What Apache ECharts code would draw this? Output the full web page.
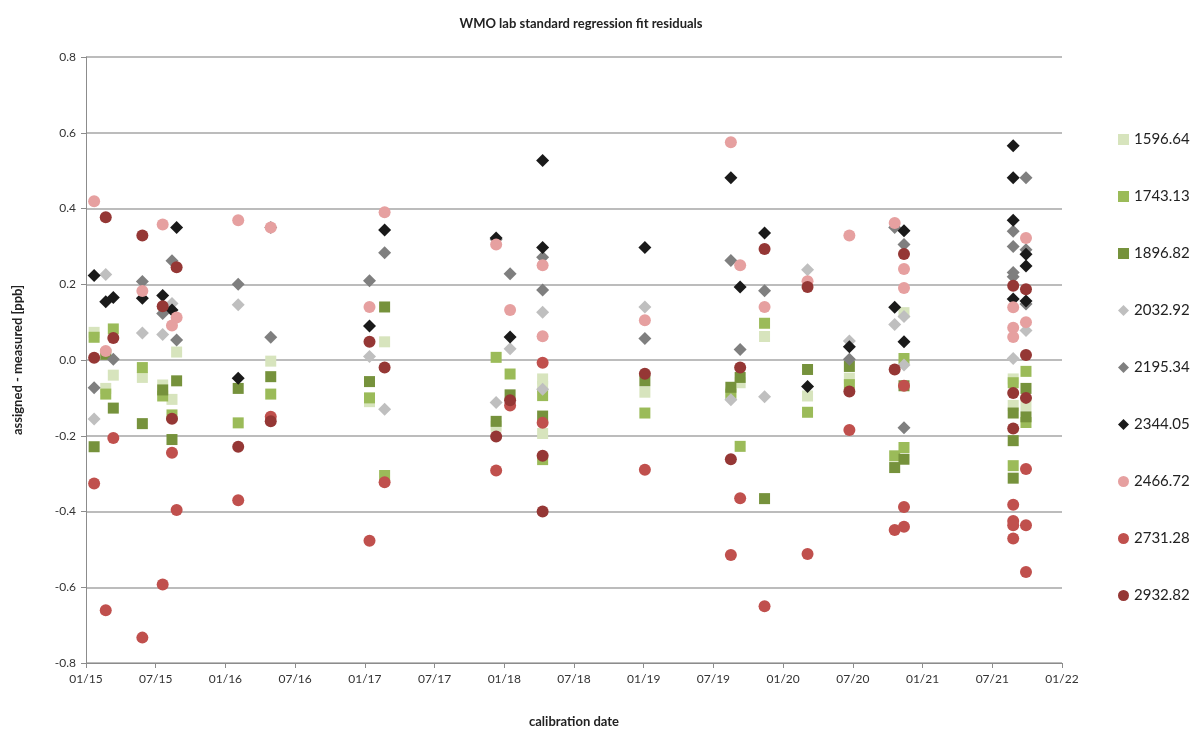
<!DOCTYPE html>
<html>
<head>
<meta charset="utf-8">
<script src="https://cdn.jsdelivr.net/npm/echarts@6/dist/echarts.min.js"></script>
<style>
html,body{margin:0;padding:0;background:#fff;}
#chart{width:1190px;height:733px;}
</style>
</head>
<body>
<div id="chart"></div>
<script>
// x = months since 01/2015, y = residual [ppb]
var xTickLabels = ['01/15','07/15','01/16','07/16','01/17','07/17','01/18','07/18','01/19','07/19','01/20','07/20','01/21','07/21','01/22'];
var seriesNames = ['1596.64','1743.13','1896.82','2032.92','2195.34','2344.05','2466.72','2731.28','2932.82'];

var s1596 = [[0.7,0.073],[1.7,-0.075],[2.35,-0.04],[4.85,-0.046],[6.6,-0.066],[7.4,-0.104],[7.8,0.021],[15.9,-0.003],[24.4,-0.11],[25.7,0.048],[35.3,-0.175],[39.3,-0.05],[39.3,-0.07],[39.3,-0.194],[48.1,-0.085],[55.5,-0.085],[56.3,-0.06],[58.4,0.062],[62.1,-0.095],[65.7,-0.048],[70.4,0.125],[79.8,-0.05],[79.8,-0.12],[80.9,-0.12]];
var s1743 = [[0.7,0.06],[1.7,-0.09],[2.35,0.082],[4.85,-0.02],[6.6,-0.095],[7.4,-0.145],[13.1,-0.166],[15.9,-0.09],[24.4,-0.1],[25.7,-0.305],[35.3,0.007],[36.5,-0.037],[39.3,-0.094],[39.3,-0.263],[48.1,-0.14],[55.5,-0.09],[56.3,-0.228],[58.4,0.097],[62.1,-0.138],[65.7,-0.065],[69.6,-0.253],[70.4,0.004],[70.4,-0.231],[79.8,-0.06],[79.8,-0.279],[80.9,-0.03],[80.9,-0.165]];
var s1896 = [[0.7,-0.229],[1.7,0.015],[2.35,-0.127],[4.85,-0.168],[6.6,-0.079],[7.4,-0.21],[7.8,-0.055],[13.1,-0.075],[15.9,-0.044],[24.4,-0.057],[25.7,0.14],[35.3,-0.162],[36.5,-0.092],[39.3,-0.148],[48.1,-0.055],[55.5,-0.072],[56.3,-0.046],[58.4,-0.366],[62.1,-0.025],[65.7,-0.017],[69.6,-0.284],[70.4,-0.068],[70.4,-0.262],[79.8,-0.14],[79.8,-0.213],[79.8,-0.312],[80.9,-0.075],[80.9,-0.15]];
var s2032 = [[0.7,-0.156],[1.7,0.226],[4.85,0.071],[6.6,0.067],[7.4,0.149],[13.1,0.146],[24.4,0.009],[25.7,-0.13],[35.3,-0.112],[36.5,0.03],[39.3,0.126],[39.3,-0.077],[48.1,0.14],[55.5,-0.105],[58.4,-0.097],[62.1,0.238],[65.7,0.05],[69.6,0.094],[70.4,0.115],[70.4,-0.013],[79.8,0.004],[80.9,0.078]];
var s2195 = [[0.7,-0.073],[2.35,0.002],[4.85,0.207],[6.6,0.123],[7.4,0.262],[7.8,0.053],[13.1,0.2],[15.9,0.35],[15.9,0.06],[24.4,0.209],[25.7,0.283],[35.3,0.318],[36.5,0.228],[39.3,0.271],[39.3,0.185],[48.1,0.057],[55.5,0.263],[56.3,0.028],[58.4,0.183],[65.7,0.002],[69.6,0.35],[70.4,0.305],[70.4,-0.179],[79.8,0.34],[79.8,0.3],[79.8,0.231],[79.8,0.22],[80.9,0.481],[80.9,0.291],[80.9,0.148]];
var s2344 = [[0.7,0.223],[1.7,0.154],[2.35,0.165],[4.85,0.163],[6.6,0.17],[7.4,0.132],[7.8,0.35],[13.1,-0.048],[24.4,0.09],[25.7,0.343],[35.3,0.322],[36.5,0.061],[39.3,0.527],[39.3,0.297],[48.1,0.297],[55.5,0.481],[56.3,0.193],[58.4,0.335],[62.1,-0.07],[65.7,0.035],[69.6,0.139],[70.4,0.341],[70.4,0.048],[79.8,0.566],[79.8,0.481],[79.8,0.369],[79.8,0.161],[80.9,0.279],[80.9,0.248],[80.9,0.156]];
var s2466 = [[0.7,0.419],[1.7,0.024],[4.85,0.182],[6.6,0.358],[7.4,0.091],[7.8,0.112],[13.1,0.369],[15.9,0.35],[24.4,0.14],[25.7,0.39],[35.3,0.305],[36.5,0.132],[39.3,0.25],[39.3,0.063],[48.1,0.105],[55.5,0.575],[56.3,0.25],[58.4,0.14],[62.1,0.208],[65.7,0.329],[69.6,0.362],[70.4,0.24],[70.4,0.19],[79.8,0.139],[79.8,0.085],[79.8,0.061],[80.9,0.322],[80.9,0.1]];
var s2731 = [[0.7,-0.326],[1.7,-0.661],[2.35,-0.206],[4.85,-0.733],[6.6,-0.593],[7.4,-0.245],[7.8,-0.396],[13.1,-0.37],[15.9,-0.15],[24.4,-0.477],[25.7,-0.323],[35.3,-0.292],[36.5,-0.12],[39.3,-0.007],[39.3,-0.166],[48.1,-0.29],[55.5,-0.515],[56.3,-0.365],[58.4,-0.65],[62.1,-0.512],[65.7,-0.185],[69.6,-0.449],[70.4,-0.068],[70.4,-0.388],[70.4,-0.44],[79.8,-0.382],[79.8,-0.425],[79.8,-0.436],[79.8,-0.471],[80.9,-0.288],[80.9,-0.436],[80.9,-0.56]];
var s2932 = [[0.7,0.006],[1.7,0.377],[2.35,0.058],[4.85,0.329],[6.6,0.142],[7.4,-0.155],[7.8,0.245],[13.1,-0.229],[15.9,-0.162],[24.4,0.048],[25.7,-0.02],[35.3,-0.202],[36.5,-0.106],[39.3,-0.253],[39.3,-0.4],[48.1,-0.036],[55.5,-0.262],[56.3,-0.02],[58.4,0.293],[62.1,0.193],[65.7,-0.083],[69.6,-0.025],[70.4,0.28],[79.8,0.196],[79.8,-0.087],[79.8,-0.181],[80.9,0.187],[80.9,0.013],[80.9,-0.1]];

var seriesData = [s1596,s1743,s1896,s2032,s2195,s2344,s2466,s2731,s2932];
var colors = ['#d7e4bd','#9bbb59','#76923c','#bfbfbf','#7f7f7f','#1a1a1a','#e6a0a0','#c0504d','#953735'];
var symbols = ['rect','rect','rect','diamond','diamond','diamond','circle','circle','circle'];
var sizes = [11,11,11,13,13,13,12,12,12];

var chart = echarts.init(document.getElementById('chart'), null, {renderer:'canvas'});
var series = seriesNames.map(function(n,i){
  return {
    name:n, type:'scatter', data:seriesData[i],
    symbol:symbols[i], symbolSize:sizes[i],
    itemStyle:{color:colors[i], opacity:1},
    emphasis:{disabled:true}
  };
});
chart.setOption({
  animation:false,
  backgroundColor:'#ffffff',
  textStyle:{fontFamily:'Lato, "Liberation Sans", sans-serif'},
  title:{
    text:'WMO lab standard regression fit residuals',
    left:576, top:12, textAlign:'center',
    textStyle:{fontSize:13, fontWeight:'bold', color:'#222', fontFamily:'Lato, "Liberation Sans", sans-serif'}
  },
  legend:{
    orient:'vertical', left:1113, top:127,
    itemGap:42, itemWidth:11, itemHeight:11,
    data:seriesNames.map(function(n,i){return {name:n, icon:symbols[i]};}),
    textStyle:{fontSize:15, color:'#222', padding:[0,0,0,0]},
    selectedMode:false
  },
  grid:{left:86, right:128, top:57, bottom:64, containLabel:false},
  xAxis:{
    type:'value', min:0, max:84, interval:6,
    name:'calibration date', nameLocation:'middle', nameGap:52,
    nameTextStyle:{fontSize:13, fontWeight:'bold', color:'#222'},
    axisLine:{show:true, onZero:false, lineStyle:{color:'#8c8c8c', width:1}},
    axisTick:{show:true, length:5, lineStyle:{color:'#8c8c8c'}},
    axisLabel:{fontSize:12, color:'#333', margin:10, formatter:function(v){return xTickLabels[Math.round(v/6)]||'';}},
    splitLine:{show:false}
  },
  yAxis:{
    type:'value', min:-0.8, max:0.8, interval:0.2,
    name:'assigned - measured [ppb]', nameLocation:'middle', nameGap:62, nameRotate:90,
    nameTextStyle:{fontSize:13, fontWeight:'bold', color:'#222'},
    axisLine:{show:true, lineStyle:{color:'#8c8c8c', width:1}},
    axisTick:{show:true, length:5, lineStyle:{color:'#8c8c8c'}},
    axisLabel:{fontSize:12, color:'#333', margin:10, formatter:function(v){return (Math.abs(v)<1e-9?0:v).toFixed(1);}},
    splitLine:{show:true, lineStyle:{color:'#a6a6a6', width:1.5}}
  },
  series:series
});
</script>
</body>
</html>
